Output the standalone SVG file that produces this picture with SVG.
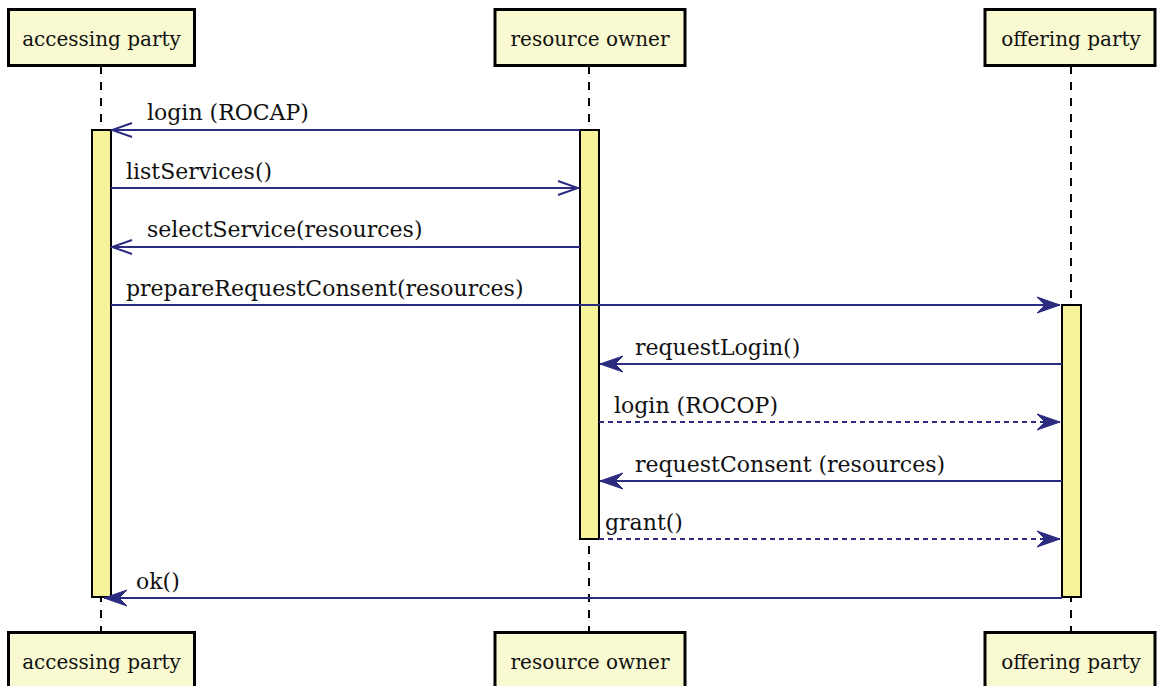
<svg xmlns="http://www.w3.org/2000/svg" width="1157" height="686" viewBox="0 0 1157 686">
<style>
.box{fill:#fafad2;stroke:#000;stroke-width:3}
.lbl{font-family:"DejaVu Serif","Liberation Serif",serif;font-size:20px;fill:#111;text-anchor:middle}
.life{stroke:#000;stroke-width:2;stroke-dasharray:8,8;fill:none}
.act{fill:#f7f39a;stroke:#000;stroke-width:2}
.msg{stroke:#2b2b80;stroke-width:2;fill:none}
.dot{stroke-dasharray:5,4}
.mt{font-family:"DejaVu Serif","Liberation Serif",serif;font-size:22px;fill:#111}
</style>
<defs>
<marker id="open" viewBox="0 0 24 18" refX="23" refY="9" markerWidth="24" markerHeight="18" markerUnits="userSpaceOnUse" orient="auto">
<path d="M2,2 L22,9 L2,16" fill="none" stroke="#2b2b80" stroke-width="2"/>
</marker>
<marker id="fill" viewBox="0 0 24 18" refX="23" refY="9" markerWidth="24" markerHeight="18" markerUnits="userSpaceOnUse" orient="auto">
<path d="M0,1 L23,9 L0,17 L8,9 Z" fill="#2b2b80" stroke="#2b2b80" stroke-width="1"/>
</marker>
</defs>
<rect width="1157" height="686" fill="#fff"/>
<g id="lifelines">
<line class="life" x1="101" y1="66" x2="101" y2="631"/>
<line class="life" x1="589" y1="66" x2="589" y2="631"/>
<line class="life" x1="1071" y1="66" x2="1071" y2="631"/>
</g>
<g id="accessing-party">
<rect class="box" x="8.5" y="9.5" width="186" height="56"/>
<text class="lbl" x="101.5" y="46">accessing party</text>
<rect class="box" x="8.5" y="632.5" width="186" height="56"/>
<text class="lbl" x="101.5" y="669">accessing party</text>
<rect class="act" x="92" y="130" width="19" height="467"/>
</g>
<g id="resource-owner">
<rect class="box" x="495" y="9.5" width="190" height="56"/>
<text class="lbl" x="590" y="46">resource owner</text>
<rect class="box" x="495" y="632.5" width="190" height="56"/>
<text class="lbl" x="590" y="669">resource owner</text>
<rect class="act" x="580" y="130" width="19" height="409"/>
</g>
<g id="offering-party">
<rect class="box" x="985" y="9.5" width="170" height="56"/>
<text class="lbl" x="1071" y="46">offering party</text>
<rect class="box" x="985" y="632.5" width="170" height="56"/>
<text class="lbl" x="1071" y="669">offering party</text>
<rect class="act" x="1062" y="305" width="19" height="292"/>
</g>
<g id="connectors">
<line class="msg" x1="580" y1="130" x2="111" y2="130" marker-end="url(#open)"/>
<text class="mt" x="147" y="120">login (ROCAP)</text>
<line class="msg" x1="111" y1="188" x2="579" y2="188" marker-end="url(#open)"/>
<text class="mt" x="126" y="179">listServices()</text>
<line class="msg" x1="580" y1="247" x2="111" y2="247" marker-end="url(#open)"/>
<text class="mt" x="147" y="237">selectService(resources)</text>
<line class="msg" x1="111" y1="305" x2="1060" y2="305" marker-end="url(#fill)"/>
<text class="mt" x="126" y="296">prepareRequestConsent(resources)</text>
<line class="msg" x1="1062" y1="364" x2="600" y2="364" marker-end="url(#fill)"/>
<text class="mt" x="635" y="355">requestLogin()</text>
<line class="msg dot" x1="599" y1="422" x2="1060" y2="422" marker-end="url(#fill)"/>
<text class="mt" x="614" y="413">login (ROCOP)</text>
<line class="msg" x1="1062" y1="481" x2="600" y2="481" marker-end="url(#fill)"/>
<text class="mt" x="635" y="472">requestConsent (resources)</text>
<line class="msg dot" x1="599" y1="539" x2="1060" y2="539" marker-end="url(#fill)"/>
<text class="mt" x="605" y="530">grant()</text>
<line class="msg" x1="1062" y1="598" x2="104" y2="598" marker-end="url(#fill)"/>
<text class="mt" x="136" y="589">ok()</text>
</g>
</svg>
